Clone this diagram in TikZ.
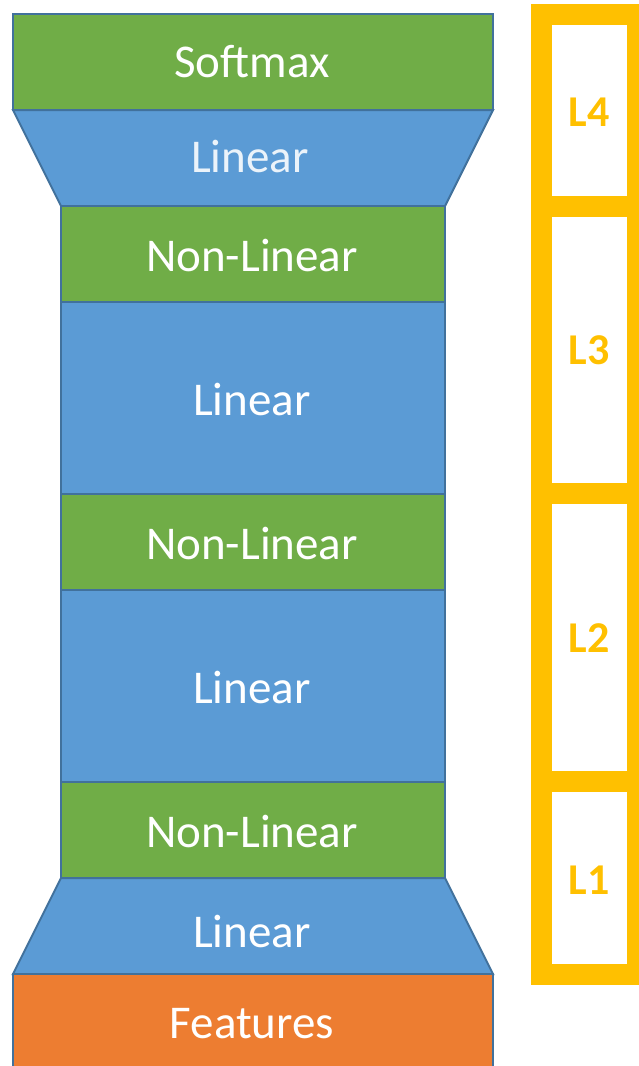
\documentclass[tikz,border=0pt]{standalone}
\usepackage{fontspec}
\setmainfont{Carlito}
\definecolor{lgreen}{HTML}{70AD47}
\definecolor{lblue}{HTML}{5B9BD5}
\definecolor{lorange}{HTML}{ED7D31}
\definecolor{lyellow}{HTML}{FFC000}
\definecolor{ledge}{HTML}{41719C}
\tikzset{
  layer/.style={draw=ledge, line width=2pt, line join=miter},
  ltext/.style={text=white, font=\fontsize{47}{56}\selectfont, inner sep=0pt},
  bracket/.style={draw=lyellow, line width=21pt},
  btext/.style={text=lyellow, font=\bfseries\fontsize{44}{52}\selectfont, inner sep=0pt}
}
\begin{document}
\begin{tikzpicture}[x=1pt,y=-1pt]
\useasboundingbox (0,0) rectangle (639,1066);
\clip (0,0) rectangle (639,1066);
% layers
\path[layer, fill=lgreen] (13,14) rectangle (493,110);
\path[layer, fill=lblue] (13,110) -- (493,110) -- (445,206) -- (61,206) -- cycle;
\path[layer, fill=lgreen] (61,206) rectangle (445,302);
\path[layer, fill=lblue] (61,302) rectangle (445,494);
\path[layer, fill=lgreen] (61,494) rectangle (445,590);
\path[layer, fill=lblue] (61,590) rectangle (445,782);
\path[layer, fill=lgreen] (61,782) rectangle (445,878);
\path[layer, fill=lblue] (61,878) -- (445,878) -- (493,974) -- (13,974) -- cycle;
\path[layer, fill=lorange] (13,974) rectangle (493,1075);
% labels
\node[ltext] (softmax) at (252,62) {Softmax};
\node[ltext, text=white!88!lblue] (lin4) at (250,156) {Linear};
\node[ltext] (nl3) at (252,255) {Non-Linear};
\node[ltext] (lin3) at (252,399) {Linear};
\node[ltext] (nl2) at (252,543) {Non-Linear};
\node[ltext] (lin2) at (252,687) {Linear};
\node[ltext] (nl1) at (252,831) {Non-Linear};
\node[ltext] (lin1) at (252,931) {Linear};
\node[ltext] (feat) at (252,1024) {Features};
% brackets
\path[bracket] (541,14) rectangle (637,206);
\path[bracket] (541,206) rectangle (637,493);
\path[bracket] (541,493) rectangle (637,781);
\path[bracket] (541,781) rectangle (637,974);
\node[btext] (L4) at (589,112) {L4};
\node[btext] (L3) at (589,350) {L3};
\node[btext] (L2) at (589,638) {L2};
\node[btext] (L1) at (589,880) {L1};
\end{tikzpicture}
\end{document}
